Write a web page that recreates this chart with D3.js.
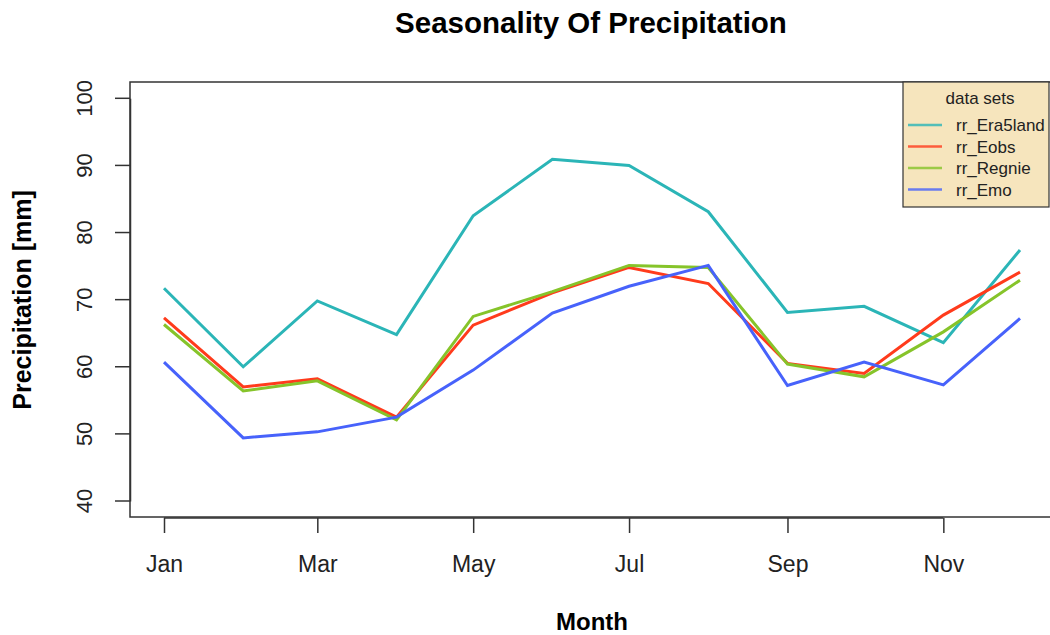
<!DOCTYPE html>
<html>
<head>
<meta charset="utf-8">
<script src="https://cdn.jsdelivr.net/npm/d3@7"></script>
<style>
  body { margin: 0; background: #fff; }
  text { font-family: "Liberation Sans", Arial, sans-serif; }
</style>
</head>
<body>
<svg id="chart" width="1050" height="635"></svg>
<script>
// monthly means, one value per month (1st of month)
var months = ["2020-01-01","2020-02-01","2020-03-01","2020-04-01","2020-05-01","2020-06-01",
              "2020-07-01","2020-08-01","2020-09-01","2020-10-01","2020-11-01","2020-12-01"];
var tickMonths = ["2020-01-01","2020-03-01","2020-05-01","2020-07-01","2020-09-01","2020-11-01"];
var yTicks = [40, 50, 60, 70, 80, 90, 100];

var rrEra5land = [71.7, 60.0, 69.8, 64.8, 82.5, 90.9, 90.0, 83.1, 68.1, 69.0, 63.6, 77.4];
var rrEobs     = [67.3, 57.0, 58.2, 52.5, 66.2, 71.0, 74.8, 72.4, 60.5, 59.0, 67.7, 74.1];
var rrRegnie   = [66.3, 56.4, 57.9, 52.1, 67.5, 71.2, 75.1, 74.8, 60.4, 58.5, 65.2, 72.9];
var rrEmo      = [60.7, 49.4, 50.3, 52.5, 59.5, 68.0, 72.0, 75.1, 57.2, 60.7, 57.3, 67.2];

var seriesNames = ["rr_Era5land", "rr_Eobs", "rr_Regnie", "rr_Emo"];
var seriesValues = [rrEra5land, rrEobs, rrRegnie, rrEmo];
var colors = ["#2bb5b7", "#ff3b1c", "#86c42a", "#4762fb"];

var parse = d3.timeParse("%Y-%m-%d");
var svg = d3.select("#chart");

var x = d3.scaleTime()
    .domain([parse(months[0]), parse(months[11])])
    .range([164, 1020]);
var y = d3.scaleLinear().domain([40, 100]).range([501, 98.3]);

// title
svg.append("text")
    .attr("x", 591).attr("y", 33)
    .attr("text-anchor", "middle")
    .attr("font-size", 29.5).attr("font-weight", "bold")
    .text("Seasonality Of Precipitation");

// plot box
svg.append("rect")
    .attr("x", 130).attr("y", 82)
    .attr("width", 940).attr("height", 435)
    .attr("fill", "none").attr("stroke", "#333").attr("stroke-width", 1.5);

// lines
var line = d3.line()
    .x(function(d, i) { return x(parse(months[i])); })
    .y(function(d) { return y(d); });

seriesValues.forEach(function(vals, k) {
  svg.append("path")
      .datum(vals)
      .attr("d", line)
      .attr("fill", "none")
      .attr("stroke", colors[k])
      .attr("stroke-width", 3)
      .attr("stroke-linejoin", "miter");
});

// y axis
var yAxis = d3.axisLeft(y).tickValues(yTicks).tickSize(15).tickSizeOuter(0);
var gy = svg.append("g").attr("transform", "translate(130,0)").call(yAxis);
gy.selectAll("text")
    .attr("transform", function(d) { return "rotate(-90," + (-46) + "," + y(d) + ")"; })
    .attr("x", -46).attr("y", function(d) { return y(d); })
    .attr("dy", "0.35em")
    .attr("text-anchor", "middle")
    .attr("font-size", 22).attr("fill", "#222")
    .style("font-family", "Liberation Sans, Arial, sans-serif");
gy.selectAll(".tick").attr("transform", null);
gy.selectAll(".tick line")
    .attr("y1", function(d) { return y(d); }).attr("y2", function(d) { return y(d); })
    .attr("stroke", "#333").attr("stroke-width", 1.5);
gy.select(".domain").attr("stroke", "#333").attr("stroke-width", 1.5);

// x axis (R style: line only spans the first to last tick)
var xTickDates = tickMonths.map(parse);
var xAxis = d3.axisBottom(x)
    .tickValues(xTickDates)
    .tickFormat(d3.timeFormat("%b"))
    .tickSize(15).tickPadding(23).tickSizeOuter(0);
var gx = svg.append("g").attr("transform", "translate(0,518)").call(xAxis);
gx.selectAll("text")
    .attr("font-size", 23).attr("fill", "#222")
    .style("font-family", "Liberation Sans, Arial, sans-serif");
gx.selectAll(".tick line").attr("stroke", "#333").attr("stroke-width", 1.5);
gx.select(".domain")
    .attr("d", "M" + x(xTickDates[0]) + ",0H" + x(xTickDates[xTickDates.length - 1]))
    .attr("stroke", "#333").attr("stroke-width", 1.5);

// axis titles
svg.append("text")
    .attr("x", 592).attr("y", 630)
    .attr("text-anchor", "middle")
    .attr("font-size", 24).attr("font-weight", "bold")
    .text("Month");
svg.append("text")
    .attr("transform", "translate(31,300) rotate(-90)")
    .attr("text-anchor", "middle")
    .attr("font-size", 25).attr("font-weight", "bold")
    .text("Precipitation [mm]");

// legend
var lg = svg.append("g").attr("transform", "translate(903,82)");
lg.append("rect")
    .attr("width", 146).attr("height", 125)
    .attr("fill", "#f6e5bd").attr("stroke", "#333").attr("stroke-width", 1.2);
lg.append("text")
    .attr("x", 77).attr("y", 22)
    .attr("text-anchor", "middle")
    .attr("font-size", 17).attr("fill", "#222")
    .text("data sets");
seriesNames.forEach(function(name, k) {
  var yy = 43 + k * 21.5;
  lg.append("line")
      .attr("x1", 5).attr("x2", 39)
      .attr("y1", yy).attr("y2", yy)
      .attr("stroke", colors[k]).attr("stroke-width", 2.5).attr("opacity", 0.8);
  lg.append("text")
      .attr("x", 53).attr("y", yy + 6)
      .attr("font-size", 17).attr("fill", "#222")
      .text(name);
});
</script>
</body>
</html>
